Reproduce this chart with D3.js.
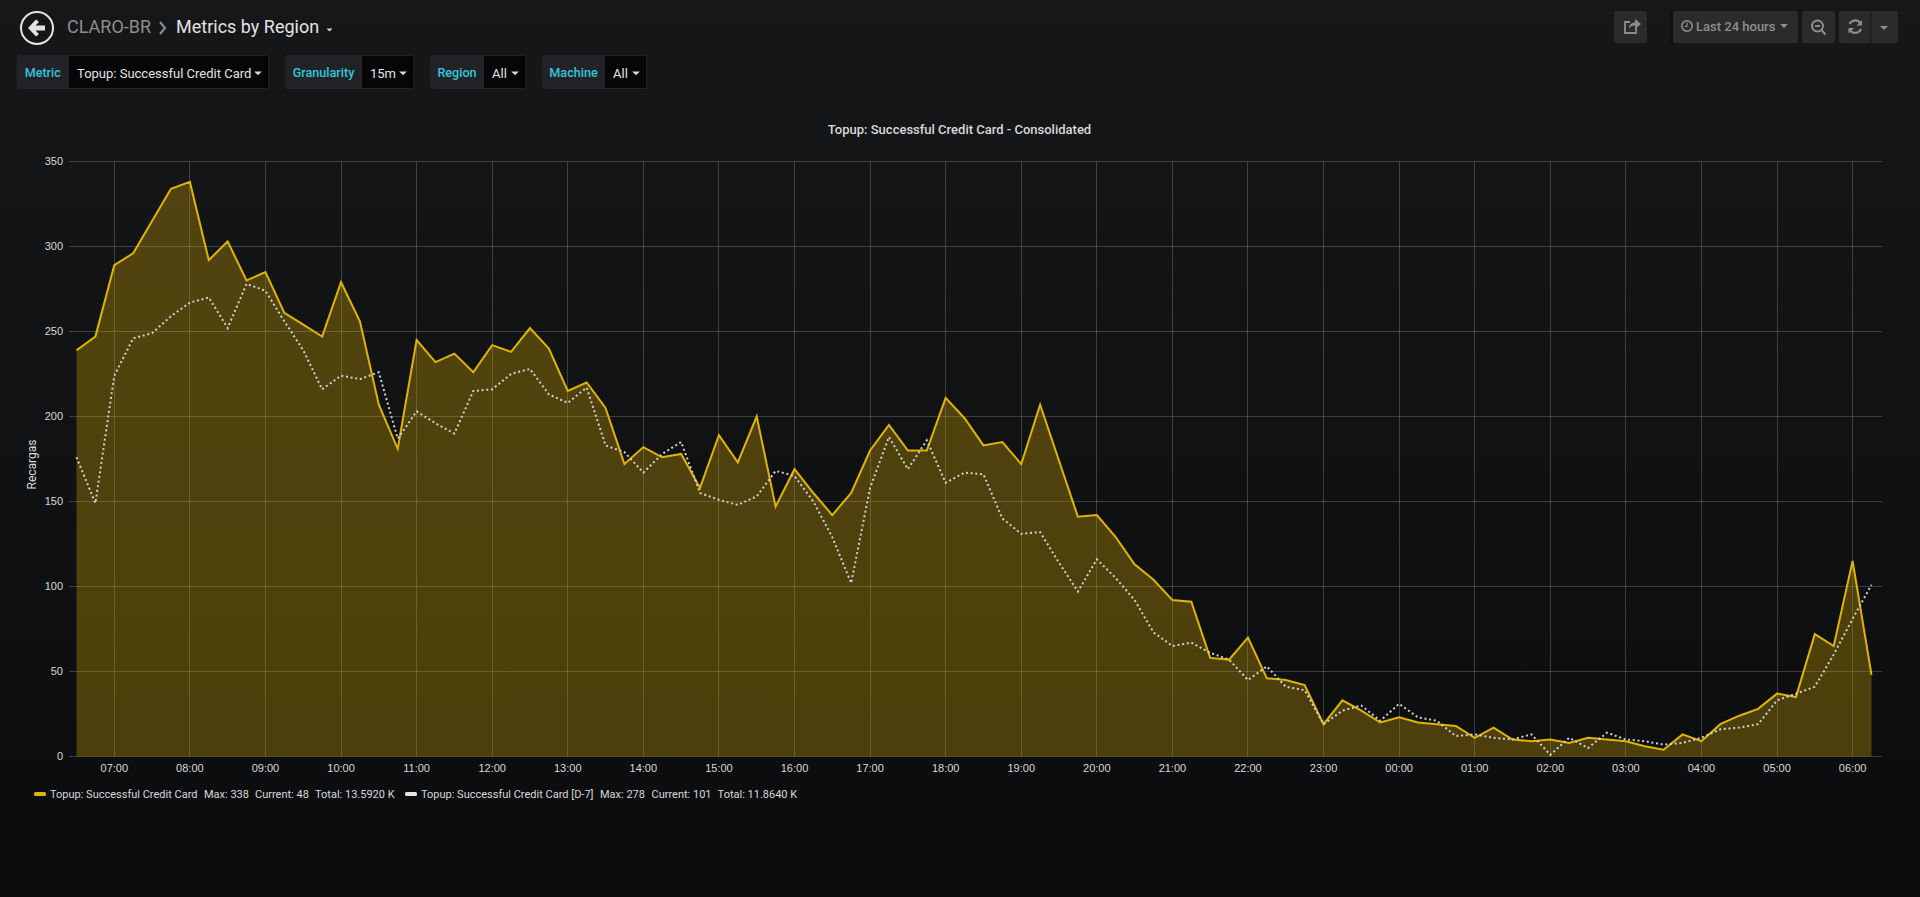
<!DOCTYPE html>
<html lang="en">
<head>
<meta charset="UTF-8">
<title>Metrics by Region</title>
<script src="https://d3js.org/d3.v7.min.js"></script>
<style>
    html, body { margin: 0; padding: 0; height: 100%; overflow: hidden; background: #0b0c0e; }
    svg { display: block; font-family: Roboto, sans-serif; }
    .tick text { font-size: 11px; fill: #d8d9da; }
    .tick line { shape-rendering: crispEdges; }
    .domain { display: none; }
</style>
</head>
<body>
<script>
// Chart data
const timeLabels = [
    "06:30","06:45","07:00","07:15","07:30","07:45","08:00","08:15","08:30","08:45","09:00","09:15",
    "09:30","09:45","10:00","10:15","10:30","10:45","11:00","11:15","11:30","11:45","12:00","12:15",
    "12:30","12:45","13:00","13:15","13:30","13:45","14:00","14:15","14:30","14:45","15:00","15:15",
    "15:30","15:45","16:00","16:15","16:30","16:45","17:00","17:15","17:30","17:45","18:00","18:15",
    "18:30","18:45","19:00","19:15","19:30","19:45","20:00","20:15","20:30","20:45","21:00","21:15",
    "21:30","21:45","22:00","22:15","22:30","22:45","23:00","23:15","23:30","23:45","00:00","00:15",
    "00:30","00:45","01:00","01:15","01:30","01:45","02:00","02:15","02:30","02:45","03:00","03:15",
    "03:30","03:45","04:00","04:15","04:30","04:45","05:00","05:15","05:30","05:45","06:00","06:15"
];
const current = [
    239,247,289,296,315,334,338,292,303,280,285,261,
    254,247,279,256,207,181,245,232,237,226,242,238,
    252,240,215,220,205,172,182,176,178,158,189,173,
    200,147,169,155,142,155,180,195,180,180,211,199,
    183,185,172,207,174,141,142,129,113,104,92,91,
    58,57,70,46,45,42,19,33,27,20,23,20,
    19,18,11,17,10,9,10,8,11,10,9,6,
    4,13,9,19,24,28,37,35,72,65,115,48
];
const lastWeek = [
    176,149,224,246,249,259,267,270,252,278,274,256,
    239,216,224,222,226,187,203,196,190,215,216,225,
    228,213,208,217,183,179,167,178,185,155,151,148,
    153,168,165,150,129,102,158,188,169,186,161,167,
    166,140,131,132,114,97,116,105,92,73,65,67,
    61,57,45,53,41,39,19,27,30,21,31,23,
    21,12,13,11,10,13,1,11,5,14,10,9,
    7,8,11,16,17,19,33,37,41,60,81,101
];
const yTicks = [0, 50, 100, 150, 200, 250, 300, 350];
const seriesNames = ["Topup: Successful Credit Card", "Topup: Successful Credit Card [D-7]"];
const seriesTotals = ["13.5920 K", "11.8640 K"];
const filters = [
    { label: "Metric", value: "Topup: Successful Credit Card", x0: 16.5, x1: 69, x2: 269 },
    { label: "Granularity", value: "15m", x0: 285, x1: 362, x2: 414 },
    { label: "Region", value: "All", x0: 430, x1: 484, x2: 526 },
    { label: "Machine", value: "All", x0: 542, x1: 605, x2: 647 }
];

const width = 1920, height = 897;
const yellow = "#e0b400", white = "#d0d1d3";

const svg = d3.select("body").append("svg")
    .attr("width", width)
    .attr("height", height);

// page background
const grad = svg.append("defs").append("linearGradient")
    .attr("id", "pageBg").attr("x1", 0).attr("y1", 0).attr("x2", 0).attr("y2", 1);
grad.append("stop").attr("offset", "0%").attr("stop-color", "#161719");
grad.append("stop").attr("offset", "100%").attr("stop-color", "#0b0c0e");
svg.append("rect").attr("width", width).attr("height", height).attr("fill", "url(#pageBg)");

// times run over midnight, anything before 06:30 is the next day
const parseTime = d3.timeParse("%Y-%m-%d %H:%M");
const times = timeLabels.map(t => parseTime((t < "06:30" ? "2018-06-02 " : "2018-06-01 ") + t));

const x = d3.scaleTime().domain(d3.extent(times)).range([76.5, 1871.5]);
const y = d3.scaleLinear().domain([0, 350]).range([756.5, 161.5]);

// grid and axes
const gridColor = "rgba(255,255,255,0.19)";
const xAxis = svg.append("g")
    .attr("transform", `translate(0,${y(0)})`)
    .call(d3.axisBottom(x)
        .offset(0)
        .ticks(d3.timeHour.every(1))
        .tickFormat(d3.timeFormat("%H:%M"))
        .tickSize(-(y(0) - y(350)))
        .tickPadding(8));
xAxis.selectAll("line").attr("stroke", gridColor);
xAxis.selectAll("text").attr("dy", "0.71em").attr("y", 8);

const yAxis = svg.append("g")
    .attr("transform", "translate(69,0)")
    .call(d3.axisLeft(y)
        .offset(0)
        .tickValues(yTicks)
        .tickSize(-(1882 - 69))
        .tickPadding(6));
yAxis.selectAll("line").attr("stroke", gridColor);

// series
const area = d3.area().x((d, i) => x(times[i])).y0(y(0)).y1(d => y(d));
const line = d3.line().x((d, i) => x(times[i])).y(d => y(d));

svg.append("path").datum(current)
    .attr("d", area)
    .attr("fill", yellow)
    .attr("fill-opacity", 0.3);
svg.append("path").datum(current)
    .attr("d", line)
    .attr("fill", "none")
    .attr("stroke", yellow)
    .attr("stroke-width", 2)
    .attr("stroke-linejoin", "miter");
svg.append("path").datum(lastWeek)
    .attr("d", line)
    .attr("fill", "none")
    .attr("stroke", white)
    .attr("stroke-width", 2)
    .attr("stroke-dasharray", "2 2.7");

// titles
svg.append("text")
    .attr("x", 959.5).attr("y", 134)
    .attr("text-anchor", "middle")
    .attr("font-size", 13).attr("font-weight", 500)
    .attr("fill", "#d8d9da")
    .text("Topup: Successful Credit Card - Consolidated");
svg.append("text")
    .attr("transform", "translate(36,464.5) rotate(-90)")
    .attr("text-anchor", "middle")
    .attr("font-size", 12)
    .attr("fill", "#d8d9da")
    .text("Recargas");

// legend
const legendRows = [
    { x: 34, name: 50, max: 204, cur: 255, total: 315, color: yellow, values: current },
    { x: 405, name: 421, max: 600, cur: 651.5, total: 717.6, color: "#e3e3e3", values: lastWeek }
];
legendRows.forEach((r, i) => {
    svg.append("rect")
        .attr("x", r.x).attr("y", 792).attr("width", 12).attr("height", 4).attr("rx", 1.5)
        .attr("fill", r.color);
    const entries = [
        [r.name, seriesNames[i]],
        [r.max, `Max: ${d3.max(r.values)}`],
        [r.cur, `Current: ${r.values[r.values.length - 1]}`],
        [r.total, `Total: ${seriesTotals[i]}`]
    ];
    entries.forEach(e => {
        svg.append("text")
            .attr("x", e[0]).attr("y", 798)
            .attr("font-size", 11)
            .attr("fill", "#d8d9da")
            .text(e[1]);
    });
});

// header: back button and breadcrumb
const back = svg.append("g").attr("transform", "translate(37,28)");
back.append("circle").attr("r", 16).attr("fill", "none").attr("stroke", "#e3e3e3").attr("stroke-width", 2);
back.append("path")
    .attr("d", "M-9,0 L-1,-8.5 L2,-6 L-1.5,-2.5 L8,-2.5 L8,2.5 L-1.5,2.5 L2,6 L-1,8.5 Z")
    .attr("fill", "#e3e3e3");

svg.append("text").attr("x", 67).attr("y", 33).attr("font-size", 18).attr("fill", "#8e8e8e").text("CLARO-BR");
svg.append("path").attr("d", "M160,22 L165,28 L160,34")
    .attr("fill", "none").attr("stroke", "#8e8e8e").attr("stroke-width", 2);
svg.append("text").attr("x", 176).attr("y", 33).attr("font-size", 18).attr("fill", "#e3e3e3").text("Metrics by Region");
const caret = (cx, cy, w, color) => svg.append("path")
    .attr("d", `M${cx - w},${cy} L${cx + w},${cy} L${cx},${cy + w} Z`)
    .attr("fill", color);
caret(329.5, 28.5, 3, "#d8d9da");

// template variable row
filters.forEach(f => {
    svg.append("rect")
        .attr("x", f.x0).attr("y", 55).attr("width", f.x2 - f.x0).attr("height", 34).attr("rx", 3)
        .attr("fill", "#212327");
    svg.append("rect")
        .attr("x", f.x1).attr("y", 56).attr("width", f.x2 - f.x1 - 1).attr("height", 32)
        .attr("fill", "#060607");
    svg.append("text")
        .attr("x", (f.x0 + f.x1) / 2).attr("y", 77)
        .attr("text-anchor", "middle")
        .attr("font-size", 12.6).attr("font-weight", 500)
        .attr("fill", "#33c6da")
        .text(f.label);
    svg.append("text")
        .attr("x", f.x1 + 8).attr("y", 78)
        .attr("font-size", 13)
        .attr("fill", "#e3e3e3")
        .text(f.value);
    caret(f.x2 - 11, 71.5, 3.8, "#d8d9da");
});

// dashboard buttons top right
const buttons = [
    [1614, 1647], [1673, 1798], [1802, 1835], [1839, 1898]
];
svg.append("rect").attr("x", 1670).attr("y", 11).attr("width", 4).attr("height", 32).attr("fill", "#0e0f10");
buttons.forEach(b => {
    svg.append("rect")
        .attr("x", b[0]).attr("y", 11).attr("width", b[1] - b[0]).attr("height", 32).attr("rx", 2)
        .attr("fill", "#2a2b2d");
});
svg.append("line").attr("x1", 1871).attr("x2", 1871).attr("y1", 11).attr("y2", 43).attr("stroke", "#1c1d1f");

const iconColor = "#8e8e8e";
// share
svg.append("path")
    .attr("d", "M1636,28 V33 H1625 V22 H1630")
    .attr("fill", "none").attr("stroke", iconColor).attr("stroke-width", 1.8);
svg.append("path")
    .attr("d", "M1629,29 C1629,24 1632,22.5 1635,22.5 V19 L1641,24 L1635,29 V25.5 C1633,25.5 1630,26 1629,29 Z")
    .attr("fill", iconColor);
// clock
svg.append("circle").attr("cx", 1687).attr("cy", 26).attr("r", 5.2)
    .attr("fill", "none").attr("stroke", iconColor).attr("stroke-width", 1.6);
svg.append("path").attr("d", "M1687,22.5 V26.5 H1684.5")
    .attr("fill", "none").attr("stroke", iconColor).attr("stroke-width", 1.2);
svg.append("text").attr("x", 1696).attr("y", 31).attr("font-size", 13).attr("font-weight", 500)
    .attr("fill", iconColor).text("Last 24 hours");
caret(1784, 24, 4, iconColor);
// zoom out
svg.append("circle").attr("cx", 1817.5).attr("cy", 26).attr("r", 5.5)
    .attr("fill", "none").attr("stroke", iconColor).attr("stroke-width", 2);
svg.append("path").attr("d", "M1815,26 H1820 M1821.5,30 L1825.5,34.5")
    .attr("fill", "none").attr("stroke", iconColor).attr("stroke-width", 2);
// refresh
svg.append("path")
    .attr("d", "M1849.5,24 A6.5,6.5 0 0 1 1860,22.5 M1861,29 A6.5,6.5 0 0 1 1850.5,31")
    .attr("fill", "none").attr("stroke", iconColor).attr("stroke-width", 2.2);
svg.append("path").attr("d", "M1862,20 V25.5 H1856.5 Z M1848.5,33.5 V28 H1854 Z").attr("fill", iconColor);
caret(1884, 26, 4, iconColor);
</script>
</body>
</html>
